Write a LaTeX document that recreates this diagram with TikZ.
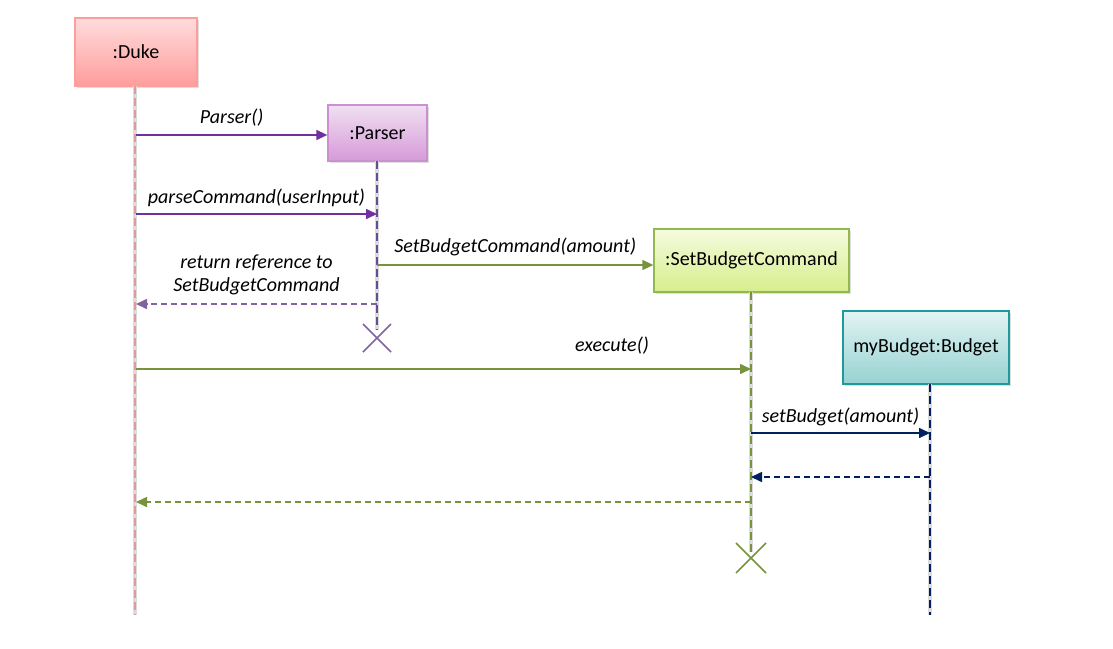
\documentclass[tikz,border=0pt]{standalone}
\usepackage{fontspec}
\setmainfont{Carlito}
\usetikzlibrary{arrows.meta,shadows}
\definecolor{dukeline}{HTML}{E09A9A}
\definecolor{dukebot}{HTML}{FF9C9C}
\definecolor{duketop}{HTML}{FFDCDC}
\definecolor{parsline}{HTML}{634F8F}
\definecolor{parsbot}{HTML}{D69AD8}
\definecolor{parstop}{HTML}{F0E0F2}
\definecolor{parsdraw}{HTML}{CC8FCF}
\definecolor{msgpurple}{HTML}{7030A0}
\definecolor{retpurple}{HTML}{8064A2}
\definecolor{cmdgreen}{HTML}{77933C}
\definecolor{cmdbot}{HTML}{D5EE8C}
\definecolor{cmdtop}{HTML}{F6FBDF}
\definecolor{cmddraw}{HTML}{93B84E}
\definecolor{budnavy}{HTML}{002060}
\definecolor{budbot}{HTML}{97D2D2}
\definecolor{budtop}{HTML}{E2F3F3}
\definecolor{buddraw}{HTML}{1E9A9A}

\begin{document}
\begin{tikzpicture}[x=1pt,y=-1pt,>={Triangle[length=11pt,width=10pt]},
  font=\fontsize{20}{24}\selectfont,
  obj/.style={draw,line width=1.3pt,inner sep=0pt,
    drop shadow={opacity=0.25,shadow xshift=2pt,shadow yshift=-2pt}},
  life/.style={line width=2.8pt,dash pattern=on 8pt off 4pt,
    preaction={draw=black!14,solid,line width=3.6pt}},
  msg/.style={->,line width=1.6pt},
  ret/.style={->,line width=1.6pt,dash pattern=on 6pt off 4pt},
  lbl/.style={font=\fontsize{20}{23}\selectfont\itshape,above=5pt}]
\useasboundingbox (0,0) rectangle (1113,648);

\node[obj,draw=dukebot,top color=duketop,bottom color=dukebot,
  minimum width=122pt,minimum height=68pt] (duke) at (136,52) {:Duke};
\node[obj,draw=parsdraw,top color=parstop,bottom color=parsbot,
  minimum width=99pt,minimum height=56pt] (parser) at (377.5,133) {:Parser};
\node[obj,draw=cmddraw,top color=cmdtop,bottom color=cmdbot,
  minimum width=195pt,minimum height=63pt] (cmd) at (751.5,260.5) {:SetBudgetCommand};
\node[obj,draw=buddraw,top color=budtop,bottom color=budbot,
  minimum width=166pt,minimum height=73pt] (budget) at (926,347.5) {myBudget:Budget};

\coordinate (dukeend) at (135,615);
\coordinate (parsend) at (377,338);
\coordinate (cmdend) at (751,558);
\coordinate (budend) at (930,615);

% lifelines
\draw[life,dukeline] (135,86) -- (dukeend);
\draw[life,parsline] (377,161) -- (377,330);
\draw[life,cmdgreen] (751,292) -- (751,552);
\draw[life,budnavy] (930,384) -- (budend);

% destroyed
\draw[retpurple,line width=1.6pt] (parsend) +(-14,-14) -- +(14,14) +(-14,14) -- +(14,-14);
\draw[cmdgreen,line width=1.6pt] (cmdend) +(-15,-15) -- +(15,15) +(-15,15) -- +(15,-15);

% messages
\draw[msg,msgpurple] (duke |- 0,135) -- node[lbl,black]{Parser()} (parser.west |- 0,135);
\draw[msg,msgpurple] (duke |- 0,214) -- node[lbl,black,above=-2pt]{parseCommand(userInput)} (parsend |- 0,214);
\draw[msg,cmdgreen] (parsend |- 0,265) -- node[lbl,black]{SetBudgetCommand(amount)} (cmd.west |- 0,265);
\draw[ret,retpurple] (parsend |- 0,304) -- node[lbl,black,align=center]{return reference to\\SetBudgetCommand} (duke |- 0,304);
\draw[msg,cmdgreen] (duke |- 0,369) -- node[lbl,black,pos=0.774,above=6pt]{execute()} (cmdend |- 0,369);
\draw[msg,budnavy] (cmdend |- 0,433) -- node[lbl,black,above=-2pt]{setBudget(amount)} (budend |- 0,433);
\draw[ret,budnavy] (budend |- 0,477) -- (cmdend |- 0,477);
\draw[ret,cmdgreen] (cmdend |- 0,502) -- (duke |- 0,502);
\end{tikzpicture}
\end{document}
